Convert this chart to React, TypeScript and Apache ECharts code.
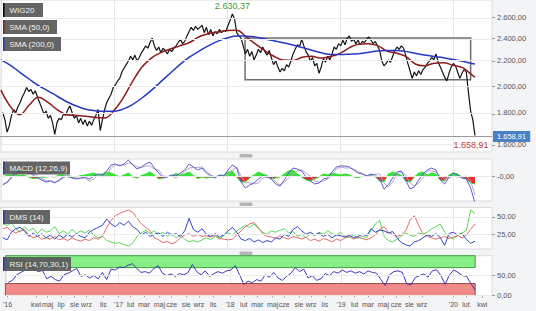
import { useEffect, useRef } from 'react';
import * as echarts from 'echarts';

const FONT = 'Liberation Sans, Arial, sans-serif';
const DAY = 86400000;
const T0 = Date.UTC(2016, 0, 1);
const dayOf = (s: string) => Math.round((Date.parse(s) - T0) / DAY);

// ---------- data ----------
const priceStart = '2016-01-07';
const priceStepDays = 7;
const price = [
  1810, 1760, 1680, 1720, 1790, 1830, 1810, 1850, 1880, 1920,
  1950, 1990, 1960, 1975, 1940, 1965, 1920, 1880, 1840, 1800,
  1820, 1770, 1790, 1740, 1665, 1740, 1770, 1760, 1800, 1790,
  1830, 1855, 1810, 1770, 1790, 1740, 1770, 1730, 1760, 1720,
  1750, 1725, 1760, 1790, 1830, 1690, 1760, 1830, 1880, 1910,
  1940, 1990, 2010, 2040, 2060, 2110, 2140, 2170, 2200, 2240,
  2210, 2250, 2200, 2230, 2270, 2300, 2330, 2310, 2360, 2400,
  2330, 2290, 2320, 2270, 2310, 2290, 2260, 2300, 2280, 2310,
  2330, 2360, 2390, 2350, 2370, 2420, 2460, 2500, 2470, 2510,
  2480, 2500, 2520, 2450, 2500, 2430, 2480, 2420, 2460, 2440,
  2480, 2450, 2470, 2460, 2520, 2570, 2630.37, 2580, 2450, 2420,
  2400, 2330, 2260, 2300, 2240, 2280, 2210, 2250, 2300, 2270,
  2320, 2280, 2250, 2290, 2230, 2170, 2200, 2150, 2110, 2140,
  2120, 2170, 2150, 2200, 2260, 2300, 2340, 2320, 2390, 2330,
  2280, 2250, 2200, 2230, 2160, 2180, 2100, 2150, 2220, 2190,
  2240, 2210, 2260, 2320, 2300, 2350, 2330, 2380, 2340, 2400,
  2420, 2370, 2390, 2350, 2380, 2340, 2370, 2360, 2390, 2410,
  2380, 2350, 2370, 2330, 2290, 2200, 2160, 2180, 2210, 2190,
  2240, 2290, 2320, 2300, 2330, 2310, 2250, 2180, 2120, 2060,
  2110, 2080, 2120, 2090, 2130, 2150, 2180, 2200, 2230, 2210,
  2260, 2190, 2150, 2110, 2070, 2040, 2100, 2150, 2180, 2160,
  2110, 2060, 2100, 2130, 2110, 1950, 1820, 1760, 1658.91,
];

// SMA values at the first day of each month (Jan 2016 .. Mar 2020), then 12 Mar 2020
const smaLastDate = '2020-03-12';
const sma50 = [
  1970, 1850, 1795, 1860, 1918, 1880, 1830, 1795, 1790, 1785, 1775, 1772,
  1825, 1920, 2035, 2150, 2225, 2272, 2302, 2330, 2360, 2410, 2440, 2455,
  2470, 2472, 2418, 2350, 2292, 2240, 2208, 2205, 2232, 2240, 2225, 2238,
  2265, 2315, 2345, 2350, 2335, 2285, 2268, 2240, 2175, 2160, 2182, 2185,
  2165, 2145, 2090, 2070,
];
const sma200 = [
  2210, 2165, 2110, 2055, 2005, 1965, 1925, 1885, 1855, 1832, 1822, 1818,
  1818, 1835, 1865, 1912, 1968, 2035, 2100, 2170, 2232, 2282, 2330, 2370,
  2400, 2420, 2418, 2410, 2393, 2376, 2358, 2338, 2315, 2292, 2270, 2255,
  2255, 2258, 2262, 2272, 2285, 2290, 2290, 2282, 2265, 2250, 2238, 2228,
  2212, 2198, 2180, 2175,
];

// indicators, every two weeks from 2016-01-07
const indStart = '2016-01-07';
const indStepDays = 14;
const macd = [
  -9, -6, -1, 3, 4, 5, 4, 1, -2, -4,
  -6, -5, -7, -4, -1, 0, -2, -3, -2, -1,
  -3, 0, 2, 1, 5, 11, 12, 10, 12, 16,
  11, 7, 9, 12, 14, 8, 3, -2, -1, 1,
  0, 3, 6, 12, 9, 6, 8, 3, 0, -2,
  1, 0, 6, 11, 8, -6, -12, -9, -7, -3,
  0, -1, -3, -8, -10, -4, 3, 8, 7, 5,
  -1, -5, -8, -7, -3, -2, 4, 9, 10, 10,
  9, 6, 3, 2, 0, 2, 1, -3, -13, -9,
  -2, 4, 5, -4, -13, -11, -4, 2, 6, 8,
  6, -4, -8, -1, 3, 1, -2, -3, -12, -27,
];
const macdSignal = [
  -8, -7, -2, 2, 3.5, 4.5, 5, 3.5, 0, -2.5,
  -5, -4.5, -6, -5, -2, 1, -0.5, -2, -2.5, -2,
  -5, -3, 1, -1, 1, 8, 11, 11, 11, 13,
  12, 9, 8.5, 10, 10, 7, 6, 0, -0.5, 0.5,
  -2.5, 2, 4, 8, 8.5, 8.5, 9, 5, 1.5, -1,
  0.5, -1, 2, 6, 9, 0, -6, -7, -8, -7,
  -2, -1.5, 0, -6, -9, -6, -2, 2, 5, 6,
  3, 0, -5, -6, -5, -3, 1, 7, 9, 8,
  8, 7, 4.5, 2.5, 0.5, 1, 2, 2, -7, -11,
  -6, 2, 4, 1, -7, -10, -7, -2, 5, 5,
  4, 0, -3, -2, 0, -1, -1, 0, -5, -19,
];
const macdHist = [
  -1, 1, 1, 1, 0.5, 0.5, -1, -2.5, -2, -1.5,
  -1, -0.5, -1, 1, 1, -1, -1.5, -1, 0.5, 1,
  2, 3, 1, 2, 4, 3, 1, -1, 1, 3,
  -1, -2, 0.5, 2, 4, 1, -3, -2, -0.5, 0.5,
  2.5, 1, 2, 4, 0.5, -2.5, -1, -2, -1.5, -1,
  0.5, 1, 4, 5, -1, -6, -6, -2, 1, 4,
  2, 0.5, -3, -2, -1, 2, 5, 6, 2, -1,
  -4, -5, -3, -1, 2, 1, 3, 2, 1, 2,
  1, -1, -1.5, -0.5, -0.5, 1, -1, -5, -6, 2,
  4, 2, 1, -5, -6, -1, 3, 4, 1, 3,
  2, -4, -5, 1, 3, 2, -1, -3, -7, -8,
];
const dmsBlue = [
  20, 17, 28, 33, 35, 30, 22, 27, 22, 26,
  20, 24, 18, 24, 20, 25, 21, 26, 22, 20,
  28, 32, 35, 38, 47, 40, 36, 42, 38, 44,
  36, 32, 24, 28, 22, 25, 27, 22, 28, 24,
  26, 22, 30, 48, 32, 28, 33, 25, 22, 26,
  21, 24, 30, 35, 28, 18, 16, 19, 14, 17,
  13, 16, 14, 20, 18, 25, 22, 32, 36, 30,
  25, 28, 24, 27, 22, 25, 20, 24, 23, 21,
  24, 20, 22, 25, 23, 33, 28, 31, 30, 27,
  29, 20, 13, 10, 8, 14, 16, 20, 24, 22,
  26, 20, 9, 26, 28, 24, 26, 18, 12, 15,
];
const dmsRed = [
  33, 35, 30, 27, 30, 32, 24, 20, 22, 18,
  20, 18, 22, 17, 19, 16, 20, 17, 15, 18,
  16, 20, 18, 22, 35, 45, 52, 55, 58, 60,
  57, 48, 40, 35, 30, 20, 17, 13, 15, 11,
  14, 20, 24, 26, 22, 25, 22, 23, 21, 24,
  19, 18, 17, 18, 24, 30, 36, 40, 42, 35,
  26, 22, 21, 19, 23, 20, 18, 22, 20, 18,
  21, 16, 18, 15, 19, 17, 14, 18, 16, 20,
  22, 18, 21, 19, 17, 20, 24, 32, 36, 28,
  25, 22, 24, 30, 45, 52, 38, 26, 22, 20,
  18, 20, 22, 19, 21, 23, 20, 24, 32, 40,
];
const dmsGreen = [
  40, 38, 42, 33, 28, 36, 30, 34, 26, 33,
  28, 30, 36, 26, 30, 25, 32, 26, 30, 27,
  31, 24, 20, 22, 16, 14, 12, 13, 10, 8,
  12, 22, 27, 31, 26, 30, 24, 28, 22, 26,
  20, 24, 18, 14, 16, 14, 17, 20, 17, 22,
  18, 23, 27, 24, 30, 34, 38, 35, 40, 33,
  28, 25, 30, 28, 31, 33, 27, 29, 22, 25,
  20, 26, 23, 28, 25, 30, 26, 24, 28, 22,
  20, 24, 19, 22, 20, 30, 40, 45, 22, 16,
  14, 18, 22, 27, 24, 22, 27, 25, 28, 33,
  36, 40, 28, 22, 18, 24, 27, 30, 60, 55,
];
const rsi = [
  33, 38, 52, 58, 64, 70, 67, 60, 63, 42,
  48, 40, 36, 52, 56, 62, 68, 48, 52, 44,
  50, 42, 58, 40, 66, 64, 72, 70, 76, 80,
  68, 58, 60, 56, 68, 75, 56, 50, 54, 48,
  55, 52, 58, 78, 60, 52, 62, 48, 55, 60,
  56, 62, 64, 75, 52, 28, 36, 32, 40, 36,
  52, 46, 58, 44, 38, 48, 56, 70, 60, 66,
  44, 50, 38, 42, 55, 50, 60, 56, 64, 58,
  62, 56, 60, 54, 62, 58, 56, 40, 25, 52,
  60, 62, 58, 30, 26, 45, 50, 54, 46, 62,
  65, 50, 28, 52, 64, 58, 50, 48, 30, 14,
];

const priceTicks = [1600, 1800, 2000, 2200, 2400, 2600];
const macdTicks = [-0.001];
const dmsTicks = [25, 50];
const rsiTicks = [0, 50];
const rsiBands = { upper: 70, lower: 30 };
const rectRange = { from: '2018-02-28', to: '2020-02-27', low: 2050, high: 2400 };
const yearDates = ['2016-01-01', '2017-01-01', '2018-01-01', '2019-01-01', '2020-01-01'];
// time-axis tick labels: where each label sits (days since 2016-01-01) and its text
const xTickDays = [
  4, 97, 135, 179, 223, 262, 317,
  367, 406, 450, 500, 540, 588, 629, 676,
  731, 776, 820, 870, 908, 956, 996, 1041,
  1094, 1138, 1182, 1232, 1274, 1317, 1358,
  1461, 1502, 1555,
];
const xTickTexts = [
  "'16", 'kwi', 'maj', 'lip', 'sie', 'wrz', 'lis',
  "'17", 'lut', 'mar', 'maj', 'cze', 'sie', 'wrz', 'lis',
  "'18", 'lut', 'mar', 'maj', 'cze', 'sie', 'wrz', 'lis',
  "'19", 'lut', 'mar', 'maj', 'cze', 'sie', 'wrz',
  "'20", 'lut', 'kwi',
];

// ---------- helpers ----------
const X_MIN = -3;
const X_MAX = 1587;
const LN = Math.log;
const idx = (d: number) => d - X_MIN;
const categories = Array.from({ length: X_MAX - X_MIN + 1 }, (_, i) => String(i + X_MIN));

const fmt = (n: number) => {
  const s = n.toFixed(2);
  const [ip, dp] = s.split('.');
  return ip.replace(/\B(?=(\d{3})+(?!\d))/g, '.') + ',' + dp;
};
const seriesFrom = (start: string, step: number, vals: number[], tf = (v: number) => v) => {
  const d0 = dayOf(start);
  return vals.map((v, i) => [idx(d0 + step * i), tf(v)]);
};
const smaDays = [
  ...Array.from({ length: sma50.length - 1 }, (_, m) => Math.round((Date.UTC(2016, m, 1) - T0) / DAY)),
  dayOf(smaLastDate),
];

function buildOption() {
  const yearIdx = new Set(yearDates.map((s) => idx(dayOf(s))));
  const labelText = new Map<number, string>(xTickDays.map((d, i) => [d, xTickTexts[i]]));
  const labelIdx = new Set(xTickDays.map(idx));
  const lastPrice = price[price.length - 1];
  const lastDay = dayOf(indStart) + indStepDays * (rsi.length - 1);

  const grids = [
    { top: 0, height: 152 },
    { top: 159, height: 42 },
    { top: 207.5, height: 41.5 },
    { top: 255.7, height: 39.8 },
  ].map((g) => ({
    ...g, left: 0, width: 492, show: true, backgroundColor: '#ffffff', borderColor: '#dcdcdc', borderWidth: 1,
  }));

  const xAxes = [0, 1, 2, 3].map((gi) => ({
    type: 'category', gridIndex: gi, data: categories, boundaryGap: false,
    axisLine: { show: false },
    axisTick: gi === 3
      ? { show: true, length: 2, interval: (i: number) => labelIdx.has(i), lineStyle: { color: '#aaaaaa' } }
      : { show: false },
    axisLabel: gi === 3
      ? {
        show: true, interval: (i: number) => labelIdx.has(i), fontSize: 7, color: '#555', margin: 5,
        fontFamily: FONT, hideOverlap: false,
        formatter: (v: string) => labelText.get(Number(v)) || '',
      }
      : { show: false },
    splitLine: { show: true, interval: (i: number) => yearIdx.has(i), lineStyle: { color: '#e6e6e6', width: 1 } },
  }));

  const yAxis = (gi: number, min: number, max: number, ticks: number[]) => ({
    type: 'value', gridIndex: gi, position: 'right', min, max,
    axisLine: { show: false },
    axisTick: { show: true, length: 3, customValues: ticks, lineStyle: { color: '#999' } },
    axisLabel: { show: false }, splitLine: { show: false },
  });
  const yAxes = [
    yAxis(0, LN(1558), LN(2773), priceTicks.map(LN)),
    yAxis(1, -25, 17, macdTicks),
    yAxis(2, 3.8, 63.7, dmsTicks),
    yAxis(3, 0, 100, rsiTicks),
  ];

  const line = (gi: number, data: any[], color: string, width = 1, extra: any = {}) => ({
    type: 'line', xAxisIndex: gi, yAxisIndex: gi, data, symbol: 'none', silent: true,
    lineStyle: { color, width }, itemStyle: { color }, ...extra,
  });

  // horizontal grid lines with value labels on the right, drawn through the y scale
  const levels = (gi: number, ticks: number[], tf: (v: number) => number) => ({
    type: 'line', xAxisIndex: gi, yAxisIndex: gi, data: [], silent: true, z: 1,
    markLine: {
      silent: true, symbol: ['none', 'none'],
      lineStyle: { color: '#ebebeb', width: 1, type: 'solid' },
      label: { show: true, position: 'end', distance: 5, color: '#555', fontSize: 7.5, fontFamily: FONT },
      data: ticks.map((t) => ({ yAxis: tf(t), label: { formatter: fmt(t) } })),
    },
  });

  const series: any[] = [
    levels(0, priceTicks, LN),
    levels(1, macdTicks, (v) => v),
    levels(2, dmsTicks, (v) => v),
    levels(3, rsiTicks, (v) => v),
    line(3, seriesFrom(indStart, indStepDays, rsi), '#3a3ab8', 1, {
      z: 3,
      markArea: {
        silent: true,
        data: [
          [
            { xAxis: 0, yAxis: rsiBands.upper, itemStyle: { color: '#86ef86', borderColor: '#3f9f3f', borderWidth: 1 } },
            { xAxis: idx(lastDay), yAxis: 100 },
          ],
          [
            { xAxis: 0, yAxis: 0, itemStyle: { color: '#f38a8a', borderColor: '#9a4a4a', borderWidth: 1 } },
            { xAxis: idx(lastDay), yAxis: rsiBands.lower },
          ],
        ],
      },
    }),
    line(1, seriesFrom(indStart, indStepDays, macdHist), '#30e030', 1, { areaStyle: { opacity: 0.95 }, z: 2 }),
    line(1, seriesFrom(indStart, indStepDays, macdSignal), '#b9a6c6', 1, { z: 3 }),
    line(1, seriesFrom(indStart, indStepDays, macd), '#5a5ad2', 1, { z: 4 }),
    line(2, seriesFrom(indStart, indStepDays, dmsGreen), '#55d855', 1, { z: 3 }),
    line(2, seriesFrom(indStart, indStepDays, dmsRed), '#e06a6a', 1, { z: 3 }),
    line(2, seriesFrom(indStart, indStepDays, dmsBlue), '#3646cc', 1, { z: 3 }),
    line(0, seriesFrom(priceStart, priceStepDays, price, LN), '#141414', 1.2, {
      z: 3,
      markLine: {
        silent: true, symbol: ['none', 'none'],
        lineStyle: { color: '#9a9a9a', width: 1, type: 'solid' },
        label: {
          show: true, position: 'end', distance: 1, formatter: fmt(lastPrice), color: '#fff',
          backgroundColor: '#4a80c4', padding: [2, 4, 1, 4], fontSize: 7.5, fontFamily: FONT,
        },
        data: [{ yAxis: LN(lastPrice) }],
      },
      markPoint: {
        silent: true, symbol: 'circle', symbolSize: 1, itemStyle: { color: 'rgba(0,0,0,0)' },
        label: { show: true, fontSize: 9, fontFamily: FONT, formatter: (p: any) => fmt(Math.exp(p.value)) },
        data: [
          { type: 'max', valueIndex: 1, label: { position: 'top', distance: 3, color: '#3f9a3f' } },
          { type: 'min', valueIndex: 1, label: { position: 'bottom', distance: 5, color: '#c23b3b', offset: [-4, 0] } },
        ],
      },
      markArea: {
        silent: true,
        data: [[
          {
            xAxis: idx(dayOf(rectRange.from)), yAxis: LN(rectRange.high),
            itemStyle: { color: 'rgba(0,0,0,0)', borderColor: '#6e6e6e', borderWidth: 1.5 },
          },
          { xAxis: idx(dayOf(rectRange.to)), yAxis: LN(rectRange.low) },
        ]],
      },
    }),
    line(0, sma50.map((v, i) => [idx(smaDays[i]), LN(v)]), '#8e1b1b', 1.5, { smooth: 0.4, z: 4 }),
    line(0, sma200.map((v, i) => [idx(smaDays[i]), LN(v)]), '#2638c0', 1.5, { smooth: 0.4, z: 4 }),
  ];

  const tag = (x: number, y: number, w: number, h: number, text: string, strip: string) => ({
    type: 'group', x, y, z: 100,
    children: [
      { type: 'rect', z: 100, shape: { x: 0, y: 0, width: w, height: h }, style: { fill: 'rgba(88,88,88,0.92)' } },
      { type: 'rect', z: 101, shape: { x: 0, y: 0, width: 1.5, height: h }, style: { fill: strip } },
      {
        type: 'text', z: 102, x: 6.5, y: h / 2 + 0.5,
        style: { text, fill: '#f2f2f2', fontSize: 8, fontFamily: FONT, verticalAlign: 'middle' },
      },
    ],
  });
  const handle = (y: number) => ({
    type: 'rect', z: 100, shape: { x: 239.5, y, width: 13, height: 3.5, r: 1 }, style: { fill: '#b6b6b6' },
  });

  return {
    animation: false,
    backgroundColor: '#f3f4f6',
    textStyle: { fontFamily: FONT },
    grid: grids,
    xAxis: xAxes,
    yAxis: yAxes,
    visualMap: {
      type: 'piecewise', show: false, seriesIndex: 5, dimension: 1,
      pieces: [{ min: -1000, max: 0, color: '#ef2020' }, { min: 0, max: 1000, color: '#30e030' }],
    },
    series,
    graphic: [
      tag(3, 3, 40, 14, 'WIG20', '#000000'),
      tag(3, 20, 54, 14, 'SMA (50,0)', '#8e1b1b'),
      tag(3, 37, 58, 14, 'SMA (200,0)', '#2638c0'),
      tag(3, 161.5, 67, 13, 'MACD (12,26,9)', '#2638c0'),
      tag(3, 210, 47, 14, 'DMS (14)', '#2638c0'),
      tag(3, 257, 68, 14, 'RSI (14,70,30,1)', '#2638c0'),
      handle(154),
      handle(202.5),
      handle(251.5),
    ],
  };
}

export default function App() {
  const ref = useRef<HTMLDivElement>(null);
  useEffect(() => {
    document.body.style.margin = '0';
    const chart = echarts.init(ref.current!, undefined, { renderer: 'svg' });
    chart.setOption(buildOption() as any);
    return () => chart.dispose();
  }, []);
  return <div ref={ref} style={{ width: 536, height: 311 }} />;
}
